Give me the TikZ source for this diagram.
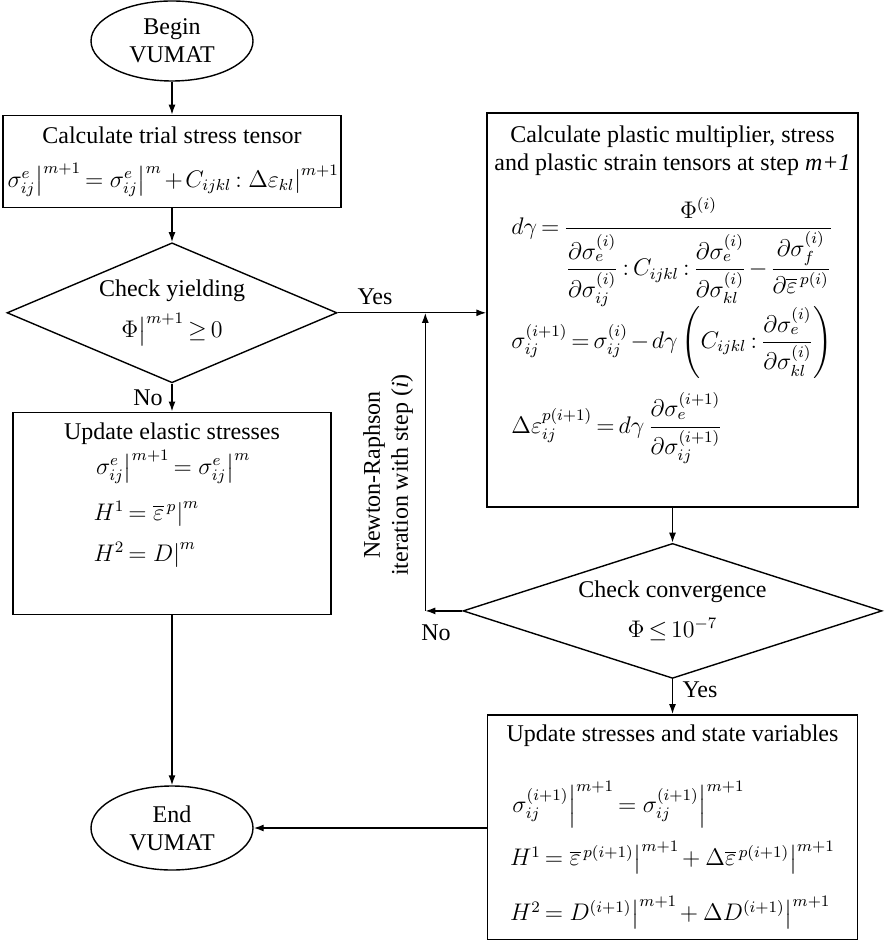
\documentclass[tikz,border=0pt]{standalone}
\usepackage{amsmath}
\usepackage[no-math]{fontspec}
\setmainfont{Liberation Serif}
\usetikzlibrary{arrows.meta, positioning, shapes.geometric}
\thickmuskip=3mu plus 2mu\relax
\medmuskip=2mu plus 1mu minus 1mu\relax

\begin{document}
\begin{tikzpicture}[
            x=0.5pt, y=-0.5pt,
            line width=0.7pt,
            >={Latex[length=5pt, width=3.5pt]},
            every node/.style={font=\fontsize{12pt}{14pt}\selectfont},
            terminal/.style={draw, ellipse, minimum width=81pt, minimum height=40pt, inner sep=0pt, align=center},
            process/.style={draw, rectangle, align=center, inner sep=1pt},
            decision/.style={draw, diamond, align=center, inner sep=0pt},
        ]
        \useasboundingbox (0,0) rectangle (884,940);

        \node[terminal] (begin) at (172,41) {Begin\\VUMAT};
        \node[process, minimum width=159.5pt, minimum height=46pt, below=16.5pt of begin] (trial)
            {Calculate trial stress tensor\\[8pt]
             $\left.\sigma^{e}_{ij}\right|^{m+1}=\left.\sigma^{e}_{ij}\right|^{m}+C_{ijkl}:\left.\Delta\varepsilon_{kl}\right|^{m+1}$};
        \node[decision, aspect=2.4, minimum width=165pt, minimum height=70pt, below=17pt of trial] (yield)
            {Check yielding\\[5pt] $\Phi\big|^{m+1}\geq 0$};
        \node[process, minimum width=159pt, minimum height=101pt, below=14pt of yield] (elastic)
            {Update elastic stresses\\[2pt]
             \begin{tabular}{@{}l@{}}
             $\left.\sigma^{e}_{ij}\right|^{m+1}=\left.\sigma^{e}_{ij}\right|^{m}$\\[9pt]
             $H^{1}=\left.\overline{\varepsilon}^{\,p}\right|^{m}$\\[6.5pt]
             $H^{2}=\left.D\right|^{m}$
             \end{tabular}\\[16pt]};
        \node[terminal, minimum height=42pt] (finish) at (172,828) {End\\VUMAT};

        \node[process, minimum width=185.5pt, minimum height=197pt] (plastic) at (672.5,310)
            {Calculate plastic multiplier, stress\\and plastic strain tensors at step \textit{m+1}\\[10pt]
             \begin{tabular}{@{}l@{}}
             $d\gamma=\dfrac{\Phi^{(i)}}{\dfrac{\partial\sigma_{e}^{(i)}}{\partial\sigma_{ij}^{(i)}}:C_{ijkl}:\dfrac{\partial\sigma_{e}^{(i)}}{\partial\sigma_{kl}^{(i)}}-\dfrac{\partial\sigma_{f}^{(i)}}{\partial\overline{\varepsilon}^{\,p(i)}}}$\\[24pt]
             $\sigma_{ij}^{(i+1)}=\sigma_{ij}^{(i)}-d\gamma\left(C_{ijkl}:\dfrac{\partial\sigma_{e}^{(i)}}{\partial\sigma_{kl}^{(i)}}\right)$\\[18pt]
             $\Delta\varepsilon_{ij}^{p(i+1)}=d\gamma\,\dfrac{\partial\sigma_{e}^{(i+1)}}{\partial\sigma_{ij}^{(i+1)}}$
             \end{tabular}\\[14pt]};
        \node[decision, aspect=3.1, minimum width=209.5pt, minimum height=67.5pt, below=17.5pt of plastic] (converge)
            {Check convergence\\[6pt] $\Phi\leq 10^{-7}$};
        \node[process, minimum width=185pt, minimum height=112.5pt, below=17.5pt of converge] (update)
            {Update stresses and state variables\\[16pt]
             \begin{tabular}{@{}l@{}}
             $\left.\sigma_{ij}^{(i+1)}\right|^{m+1}=\left.\sigma_{ij}^{(i+1)}\right|^{m+1}$\\[10pt]
             $H^{1}=\left.\overline{\varepsilon}^{\,p(i+1)}\right|^{m+1}+\left.\Delta\overline{\varepsilon}^{\,p(i+1)}\right|^{m+1}$\\[11pt]
             $H^{2}=\left.D^{(i+1)}\right|^{m+1}+\left.\Delta D^{(i+1)}\right|^{m+1}$
             \end{tabular}};

        \node (yes1) at (375,297) {Yes};
        \node (no1) at (148,398) {No};
        \node (no2) at (436,633) {No};
        \node (yes2) at (700,690) {Yes};
        \node[rotate=90, align=center] (nrlabel) at (388,475) {Newton-Raphson\\iteration with step (\textit{i})};

        \coordinate (nrcorner) at ([xshift=-18.5pt]converge.west);
        \coordinate (nrjoin) at (nrcorner |- yield.east);

        \draw[->] (begin) -- (trial);
        \draw[->] (trial) -- (yield);
        \draw[->] (yield) -- (elastic);
        \draw[->] (elastic) -- (finish);
        \draw[->] (yield.east) -- (yield.east -| plastic.west);
        \draw[->] (plastic) -- (converge);
        \draw[->] (converge.west) -- (nrcorner);
        \draw[->] (nrcorner) -- (nrjoin);
        \draw[->] (converge) -- (update);
        \draw[->] (update.west |- finish.east) -- (finish.east);
        \end{tikzpicture}
\end{document}
